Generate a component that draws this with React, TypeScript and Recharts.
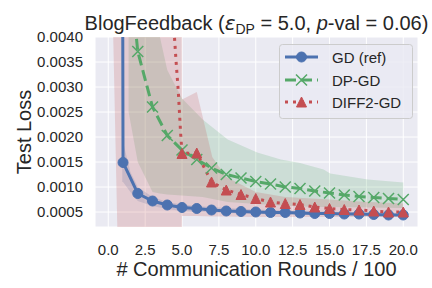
import React from 'react';
import { ComposedChart, Line, Area, XAxis, YAxis, CartesianGrid } from 'recharts';

// ---- data ----
const rounds = [1, 2, 3, 4, 5, 6, 7, 8, 9, 10, 11, 12, 13, 14, 15, 16, 17, 18, 19, 20];
const gdLoss = [0.00149, 0.00087, 0.00072, 0.00064, 0.00059, 0.00057, 0.00054, 0.00052, 0.00051, 0.0005,
  0.00049, 0.00049, 0.00048, 0.00047, 0.00047, 0.00046, 0.00046, 0.00045, 0.00044, 0.00044];

const dpRounds = [2, 3, 4, 5, 6, 7, 8, 9, 10, 11, 12, 13, 14, 15, 16, 17, 18, 19, 20];
const dpLoss = [0.00371, 0.0026, 0.00203, 0.00174, 0.00155, 0.00138, 0.00125, 0.00118, 0.00111, 0.00106,
  0.001, 0.00097, 0.00092, 0.00088, 0.00084, 0.00081, 0.00079, 0.00077, 0.00075];

const diffRounds = [5, 6, 7, 8, 9, 10, 11, 12, 13, 14, 15, 16, 17, 18, 19, 20];
const diffLoss = [0.00167, 0.00168, 0.0011, 0.00094, 0.00085, 0.00077, 0.0007, 0.00067, 0.00065, 0.0006,
  0.00057, 0.00055, 0.00054, 0.00052, 0.0005, 0.0005];

// curve segments entering from above the top of the axes
const gdLeadX = [0.97];
const gdLeadY = [0.006];
const dpLeadX = [1.7];
const dpLeadY = [0.0046];
const diffLeadX = [4.42, 4.6, 4.75, 4.9];
const diffLeadY = [0.0043, 0.0035, 0.0029, 0.0021];

// shaded bands (lower, upper)
const gdBandX = [0.95, 1, 1.5, 2, 3, 4, 5, 6, 8, 10, 12, 15, 20];
const gdBandLo = [0.0011, 0.0011, 0.0009, 0.00072, 0.00062, 0.00056, 0.00052, 0.0005, 0.00048, 0.00046, 0.00045, 0.00044, 0.00042];
const gdBandHi = [0.006, 0.0019, 0.0013, 0.001, 0.0008, 0.0007, 0.00065, 0.00062, 0.00058, 0.00055, 0.00053, 0.00051, 0.00048];

const dpBandX = [1.38, 2, 3, 3.5, 4, 5, 6.4, 8.1, 10.1, 11.7, 13, 14.6, 15.05, 17.6, 20];
const dpBandLo = [0.0025, 0.0015, 0.0009, 0.00087, 0.00085, 0.00083, 0.0008, 0.0007, 0.00066, 0.00063, 0.00061, 0.0006, 0.0006, 0.00059, 0.00058];
const dpBandHi = [0.008, 0.0065, 0.0049, 0.004, 0.00334, 0.00277, 0.00235, 0.00195, 0.00169, 0.00155, 0.00148, 0.00135, 0.00127, 0.00115, 0.00109];

const diffBandX = [0.3, 0.7, 2, 3, 4, 4.95, 5.0, 6.0, 7.05, 8, 10, 12, 15, 17, 20];
const diffBandLo = [0.0045, -0.001, -0.001, -0.001, -0.001, -0.001, 0.00042, 0.00042, 0.00041, 0.00041, 0.0004, 0.0004, 0.0004, 0.0004, 0.0004];
const diffBandHi = [0.008, 0.008, 0.008, 0.008, 0.008, 0.008, 0.00275, 0.0029, 0.0016, 0.0012, 0.0009, 0.0008, 0.00075, 0.00071, 0.00067];

const xTicks = [0, 2.5, 5, 7.5, 10, 12.5, 15, 17.5, 20];
const yTicks = [0.0005, 0.001, 0.0015, 0.002, 0.0025, 0.003, 0.0035, 0.004];

const seriesNames = ['GD (ref)', 'DP-GD', 'DIFF2-GD'];

// ---- styles ----
const BLUE = '#4C72B0';
const GREEN = '#55A868';
const RED = '#C44E52';
const TEXT = '#262626';
const FONT = '"Liberation Sans", Arial, sans-serif';

const lineData = (lx: number[], ly: number[], xs: number[], ys: number[]) => [
  ...lx.map((x, i) => ({ x, y: ly[i], m: false })),
  ...xs.map((x, i) => ({ x, y: ys[i], m: true })),
];
const bandData = (xs: number[], lo: number[], hi: number[]) => xs.map((x, i) => ({ x, band: [lo[i], hi[i]] }));

const gdData = lineData(gdLeadX, gdLeadY, rounds, gdLoss);
const dpData = lineData(dpLeadX, dpLeadY, dpRounds, dpLoss);
const diffData = lineData(diffLeadX, diffLeadY, diffRounds, diffLoss);

const circlePath = (cx: number, cy: number, r: number) => (
  <circle cx={cx} cy={cy} r={r} fill={BLUE} stroke={BLUE} strokeWidth={1} />
);
const crossPath = (cx: number, cy: number, h: number) => (
  <path d={`M${cx - h},${cy - h}L${cx + h},${cy + h}M${cx - h},${cy + h}L${cx + h},${cy - h}`} stroke={GREEN} strokeWidth={1.5} fill="none" />
);
const triPath = (cx: number, cy: number, h: number) => (
  <path d={`M${cx},${cy - h}L${cx - h},${cy + h}L${cx + h},${cy + h}Z`} fill={RED} stroke={RED} strokeWidth={1} />
);

const makeDot = (draw: (cx: number, cy: number, s: number) => React.ReactElement, s: number) => (p: any) => {
  if (!p.payload || !p.payload.m || p.cx == null || p.cy == null) return <g key={`d${p.index}`} />;
  return <g key={`d${p.index}`}>{draw(p.cx, p.cy, s)}</g>;
};

const XTick = (p: any) => (
  <text x={p.x} y={255} textAnchor="middle" fontSize={15} fill={TEXT} fontFamily={FONT}>
    {Number(p.payload.value).toFixed(1)}
  </text>
);
const YTick = (p: any) => (
  <text x={83} y={p.y + 5.3} textAnchor="end" fontSize={15} fill={TEXT} fontFamily={FONT}>
    {Number(p.payload.value).toFixed(4)}
  </text>
);

export default function App() {
  return (
    <div style={{ position: 'absolute', left: 0, top: 0, width: 432, height: 288, background: '#fff' }}>
      <ComposedChart width={432} height={288} margin={{ top: 37, right: 14, left: 0, bottom: 0 }}>
        <CartesianGrid stroke="#ffffff" strokeWidth={1} fill="#EAEAF2" fillOpacity={1} />
        <XAxis
          type="number"
          dataKey="x"
          domain={[-0.9, 21.0]}
          ticks={xTicks}
          interval={0}
          allowDataOverflow
          axisLine={false}
          tickLine={false}
          height={61}
          tick={<XTick />}
        />
        <YAxis
          type="number"
          domain={[0.0002, 0.004]}
          ticks={yTicks}
          interval={0}
          allowDataOverflow
          axisLine={false}
          tickLine={false}
          width={95}
          tick={<YTick />}
        />
        <Area data={bandData(gdBandX, gdBandLo, gdBandHi)} dataKey="band" type="linear" fill={BLUE} fillOpacity={0.2} stroke="none" isAnimationActive={false} dot={false} activeDot={false} />
        <Area data={bandData(dpBandX, dpBandLo, dpBandHi)} dataKey="band" type="linear" fill={GREEN} fillOpacity={0.2} stroke="none" isAnimationActive={false} dot={false} activeDot={false} />
        <Area data={bandData(diffBandX, diffBandLo, diffBandHi)} dataKey="band" type="linear" fill={RED} fillOpacity={0.2} stroke="none" isAnimationActive={false} dot={false} activeDot={false} />
        <Line data={gdData} dataKey="y" name={seriesNames[0]} type="linear" stroke={BLUE} strokeWidth={3} dot={makeDot(circlePath, 5)} activeDot={false} isAnimationActive={false} />
        <Line data={dpData} dataKey="y" name={seriesNames[1]} type="linear" stroke={GREEN} strokeWidth={3} strokeDasharray="11 5" dot={makeDot(crossPath, 5.5)} activeDot={false} isAnimationActive={false} />
        <Line data={diffData} dataKey="y" name={seriesNames[2]} type="linear" stroke={RED} strokeWidth={3} strokeDasharray="3 5" dot={makeDot(triPath, 5)} activeDot={false} isAnimationActive={false} />
      </ComposedChart>
      <svg width={432} height={288} style={{ position: 'absolute', left: 0, top: 0, pointerEvents: 'none' }} fontFamily={FONT}>
        <text x={256.5} y={30} textAnchor="middle" fontSize={20} fill={TEXT}>
          BlogFeedback (<tspan fontStyle="italic" fontFamily='"DejaVu Sans", sans-serif'>ε</tspan>
          <tspan fontSize={14} dy={4}>DP</tspan>
          <tspan dy={-4}> = 5.0, </tspan>
          <tspan fontStyle="italic">p</tspan>-val = 0.06)
        </text>
        <text x={256.5} y={276} textAnchor="middle" fontSize={20} fill={TEXT}>
          # Communication Rounds / 100
        </text>
        <text x={0} y={0} transform="translate(30.5,132) rotate(-90)" textAnchor="middle" fontSize={20} fill={TEXT}>
          Test Loss
        </text>
        <g>
          <rect x={279.5} y={44.5} width={133} height={74} rx={3} fill="#EAEAF2" fillOpacity={0.8} stroke="#CCCCCC" strokeWidth={1} />
          <line x1={285} y1={57} x2={318} y2={57} stroke={BLUE} strokeWidth={3} />
          {circlePath(301.5, 57, 5)}
          <text x={332} y={62.5} fontSize={15} fill={TEXT}>{seriesNames[0]}</text>
          <line x1={285} y1={80} x2={318} y2={80} stroke={GREEN} strokeWidth={3} strokeDasharray="11 5" />
          {crossPath(301.5, 80, 5.5)}
          <text x={332} y={85.5} fontSize={15} fill={TEXT}>{seriesNames[1]}</text>
          <line x1={285} y1={102} x2={318} y2={102} stroke={RED} strokeWidth={3} strokeDasharray="3 5" />
          {triPath(301.5, 102, 5)}
          <text x={332} y={107.5} fontSize={15} fill={TEXT}>{seriesNames[2]}</text>
        </g>
      </svg>
    </div>
  );
}
